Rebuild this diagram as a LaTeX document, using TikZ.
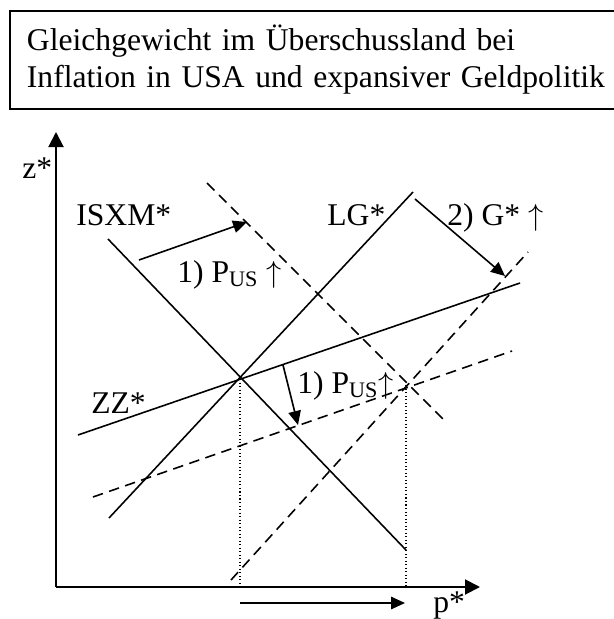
\documentclass[tikz,border=0pt]{standalone}
\usepackage{fontspec}
\setmainfont{Liberation Serif}
\usetikzlibrary{arrows.meta,positioning}

\begin{document}
\begin{tikzpicture}[
  x=0.02cm, y=-0.02cm,
  font=\fontsize{18}{21}\selectfont,
  titlebox/.style={rectangle, draw, line width=1.1pt, anchor=north west, minimum height=1.96cm, text width=11.8cm, align=left, inner xsep=0.34cm, inner ysep=0pt},
  curvelabel/.style={anchor=base west, inner sep=0pt},
  axis/.style={-{Triangle[length=0.3cm,width=0.3cm]}, line width=1.1pt},
  curve/.style={line width=0.9pt},
  shifted/.style={curve, dash pattern=on 0.21cm off 0.13cm},
  guide/.style={line width=0.6pt, dash pattern=on 0.6pt off 1.4pt},
  movearrow/.style={-{Triangle[length=0.28cm,width=0.25cm]}, line width=0.9pt}
]
\useasboundingbox (0,0) rectangle (614,619);

\node[titlebox] (title) at (9,10) {Gleichgewicht im Überschussland bei\\Inflation in USA und expansiver Geldpolitik};

% axes
\coordinate (origin) at (56,587);
\coordinate (ztop) at (56,132);
\coordinate (pend) at (480,587);
\draw[axis] (origin) -- (ztop);
\draw[axis] (origin) -- (pend);
\node[curvelabel] (zlabel) at (22,178) {z*};
\node[curvelabel] (plabel) at (433,612) {p*};

% initial curves
\coordinate (is1) at (108,239); \coordinate (is2) at (406,550);
\coordinate (lg1) at (109,518); \coordinate (lg2) at (413,192);
\coordinate (zz1) at (78,435);  \coordinate (zz2) at (520,283);
\draw[curve] (is1) -- (is2);
\draw[curve] (lg1) -- (lg2);
\draw[curve] (zz1) -- (zz2);

% shifted curves
\coordinate (isb1) at (207,183); \coordinate (isb2) at (444,420);
\coordinate (lgb1) at (231,580); \coordinate (lgb2) at (528,252);
\coordinate (zzb1) at (93,497);  \coordinate (zzb2) at (512,351);
\draw[shifted] (isb1) -- (isb2);
\draw[shifted] (lgb1) -- (lgb2);
\draw[shifted] (zzb1) -- (zzb2);

% equilibria
\coordinate (eqold) at (240,379);
\coordinate (eqnew) at (406,385);
\coordinate (footold) at (240,587);
\coordinate (footnew) at (406,587);
\draw[guide] (eqold) -- (footold);
\draw[guide] (eqnew) -- (footnew);

\node[curvelabel] (islabel) at (76,225) {ISXM*};
\node[curvelabel] (lglabel) at (327,225) {LG*};
\node[curvelabel] (zzlabel) at (91,413) {ZZ*};

% shifts
\coordinate (isfrom) at (139,260); \coordinate (isto) at (247,222);
\coordinate (lgfrom) at (415,199); \coordinate (lgto) at (505,276);
\coordinate (zzfrom) at (283,365); \coordinate (zzto) at (298,425);
\coordinate (pfrom) at (240,603);  \coordinate (pto) at (405,603);
\draw[movearrow] (isfrom) -- (isto);
\draw[movearrow] (lgfrom) -- (lgto);
\draw[movearrow] (zzfrom) -- (zzto);
\draw[movearrow] (pfrom) -- (pto);
\node[curvelabel] (pusone) at (177,282) {1) P\textsubscript{US} $\uparrow$};
\node[curvelabel] (pustwo) at (297,393) {1) P\textsubscript{US}$\uparrow$};
\node[curvelabel] (glabel) at (447,225) {2) G* $\uparrow$};
\end{tikzpicture}
\end{document}
